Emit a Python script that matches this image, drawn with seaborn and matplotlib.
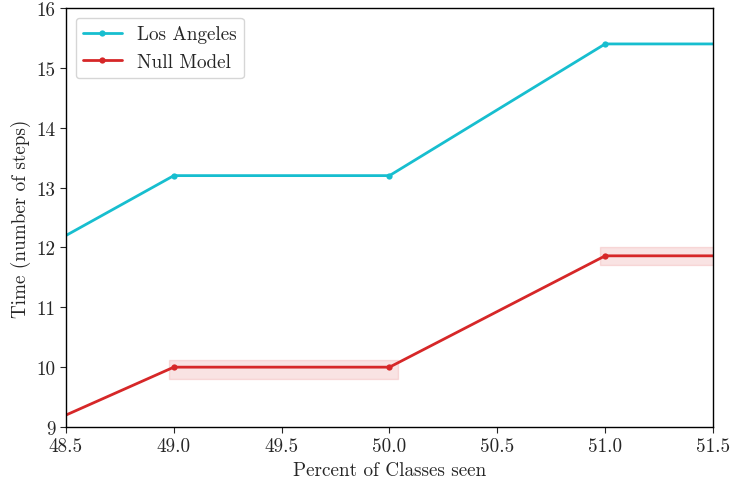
import matplotlib
matplotlib.use("Agg")
import matplotlib.pyplot as plt
import seaborn as sns
import pandas as pd

sns.set_style("ticks")
plt.rcParams["font.family"] = ["serif"]
plt.rcParams["font.serif"] = ["cmr10", "DejaVu Serif"]
plt.rcParams["mathtext.fontset"] = "cm"
plt.rcParams["axes.formatter.use_mathtext"] = True
plt.rcParams["axes.unicode_minus"] = False

# Data
x_vals = [48.0, 49.0, 50.0, 51.0, 52.0]
la_vals = [11.2, 13.2, 13.2, 15.4, 15.4]
null_vals = [8.4, 10.0, 10.0, 11.86, 11.86]

band1_x = [48.978, 50.039]
band1_lo = [9.80, 9.80]
band1_hi = [10.12, 10.12]
band2_x = [50.976, 52.0]
band2_lo = [11.71, 11.71]
band2_hi = [12.01, 12.01]

x_ticks = [48.5, 49.0, 49.5, 50.0, 50.5, 51.0, 51.5]
y_ticks = [9, 10, 11, 12, 13, 14, 15, 16]

cyan = "#17becf"
red = "#d62728"

fig = plt.figure(figsize=(7.3, 4.85), dpi=100)
ax = fig.add_axes([0.0904, 0.1175, 0.8863, 0.8639])

df = pd.DataFrame({"x": x_vals, "la": la_vals, "null": null_vals})

ax.fill_between(band1_x, band1_lo, band1_hi, color=red, alpha=0.13, linewidth=1)
ax.fill_between(band2_x, band2_lo, band2_hi, color=red, alpha=0.13, linewidth=1)

sns.lineplot(data=df, x="x", y="la", ax=ax, color=cyan, marker="o", markersize=4.5,
             markeredgewidth=0, linewidth=2.0, markevery=[1, 2, 3], label="Los Angeles")
sns.lineplot(data=df, x="x", y="null", ax=ax, color=red, marker="o", markersize=4.5,
             markeredgewidth=0, linewidth=2.0, markevery=[1, 2, 3], label="Null Model")

ax.set_xlim(48.5, 51.5)
ax.set_ylim(9, 16)
ax.set_xticks(x_ticks)
ax.set_xticklabels([f"{v:.1f}" for v in x_ticks])
ax.set_yticks(y_ticks)
ax.set_yticklabels([str(v) for v in y_ticks])
ax.tick_params(labelsize=13.8, length=4)
ax.set_xlabel("Percent of Classes seen", fontsize=13.8)
ax.set_ylabel("Time (number of steps)", fontsize=13.8)
for s in ax.spines.values():
    s.set_visible(True)
    s.set_linewidth(1.0)
    s.set_color("black")

ax.legend(loc="upper left", fontsize=13.8, frameon=True, fancybox=True, framealpha=0.8,
          edgecolor="#cccccc")

fig.savefig("out.png", dpi=100)
